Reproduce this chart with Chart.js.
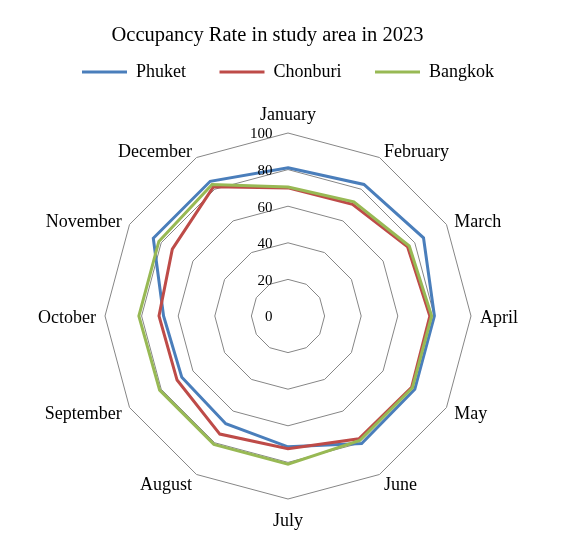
<!DOCTYPE html>
<html>
<head>
<meta charset="utf-8">
<script src="https://cdn.jsdelivr.net/npm/chart.js@4/dist/chart.umd.min.js"></script>
<style>
  html, body { margin: 0; padding: 0; background: #ffffff; }
  #wrap { width: 572px; height: 546px; }
</style>
</head>
<body>
<div id="wrap"><canvas id="c" width="572" height="546"></canvas></div>
<script>
const chartTitle = 'Occupancy Rate in study area in 2023';
const months = ['January','February','March','April','May','June','July','August','September','October','November','December'];
const phuket   = [81, 83, 85.5, 80, 80, 80.5, 71.5, 68, 67, 68, 85, 85];
const chonburi = [70, 70.5, 75.5, 77.5, 78, 77.5, 72.5, 74.5, 70, 70.5, 73, 81.5];
const bangkok  = [70.5, 72, 76.5, 78.5, 78.5, 78.5, 81, 81, 81, 81.5, 81.5, 83];
const tickValues = [0, 20, 40, 60, 80, 100];

const serif = '"Liberation Serif", "Times New Roman", serif';

const titlePlugin = {
  id: 'customTitle',
  afterDraw(chart) {
    const ctx = chart.ctx;
    ctx.save();
    ctx.font = '20.5px ' + serif;
    ctx.fillStyle = '#000000';
    ctx.textAlign = 'center';
    ctx.textBaseline = 'alphabetic';
    ctx.fillText(chartTitle, 267.5, 41);
    ctx.restore();
  }
};

// tick labels to the left of the vertical axis, and month labels centred on their spokes
const labelPlugin = {
  id: 'sideLabels',
  afterDraw(chart) {
    const s = chart.scales.r;
    const ctx = chart.ctx;
    ctx.save();
    ctx.fillStyle = '#000000';
    ctx.font = '15px ' + serif;
    ctx.textAlign = 'right';
    ctx.textBaseline = 'middle';
    tickValues.forEach(v => {
      const d = s.getDistanceFromCenterForValue(v);
      ctx.fillText(String(v), s.xCenter - 15.5, s.yCenter - d + 1.5);
    });
    ctx.font = '18px ' + serif;
    const outer = s.getDistanceFromCenterForValue(s.max) + 9;
    months.forEach((m, i) => {
      const p = s.getPointPosition(i, outer);
      const dx = p.x - s.xCenter;
      const dy = p.y - s.yCenter;
      let align = 'center';
      if (dx > 1) align = 'left';
      else if (dx < -1) align = 'right';
      let y = p.y + 2.5;
      if (Math.abs(dx) <= 1) {
        y += (dy < 0) ? -10.8 : 10.8;
      }
      ctx.textAlign = align;
      ctx.textBaseline = 'middle';
      ctx.fillText(m, p.x, y);
    });
    ctx.restore();
  }
};

new Chart(document.getElementById('c'), {
  type: 'radar',
  data: {
    labels: months,
    datasets: [
      { label: 'Phuket', data: phuket, borderColor: '#4A7EBB', backgroundColor: '#4A7EBB', borderWidth: 3, order: 3 },
      { label: 'Chonburi', data: chonburi, borderColor: '#BE4B48', backgroundColor: '#BE4B48', borderWidth: 3, order: 2 },
      { label: 'Bangkok', data: bangkok, borderColor: '#98B954', backgroundColor: '#98B954', borderWidth: 3, order: 1 }
    ]
  },
  options: {
    responsive: false,
    animation: false,
    devicePixelRatio: 1,
    layout: { padding: { top: 29.5, left: 4, right: 0, bottom: 47 } },
    elements: {
      line: { tension: 0, fill: false, borderJoinStyle: 'miter' },
      point: { radius: 0, hoverRadius: 0 }
    },
    plugins: {
      title: { display: false },
      subtitle: {
        display: true, text: '', weight: 500, position: 'top',
        padding: { top: 0, bottom: 29.6 }, font: { size: 10, lineHeight: 1.24 }
      },
      legend: {
        display: true,
        position: 'top',
        labels: {
          usePointStyle: true,
          pointStyle: 'line',
          pointStyleWidth: 45,
          padding: 33.5,
          color: '#000000',
          font: { family: serif, size: 18 },
          sort: (a, b) => a.datasetIndex - b.datasetIndex
        }
      },
      tooltip: { enabled: false }
    },
    scales: {
      r: {
        min: 0,
        max: 100,
        ticks: { stepSize: 20, display: false },
        angleLines: { display: false },
        grid: { color: '#868686', lineWidth: 1, circular: false },
        pointLabels: { display: false }
      }
    }
  },
  plugins: [titlePlugin, labelPlugin]
});
</script>
</body>
</html>
